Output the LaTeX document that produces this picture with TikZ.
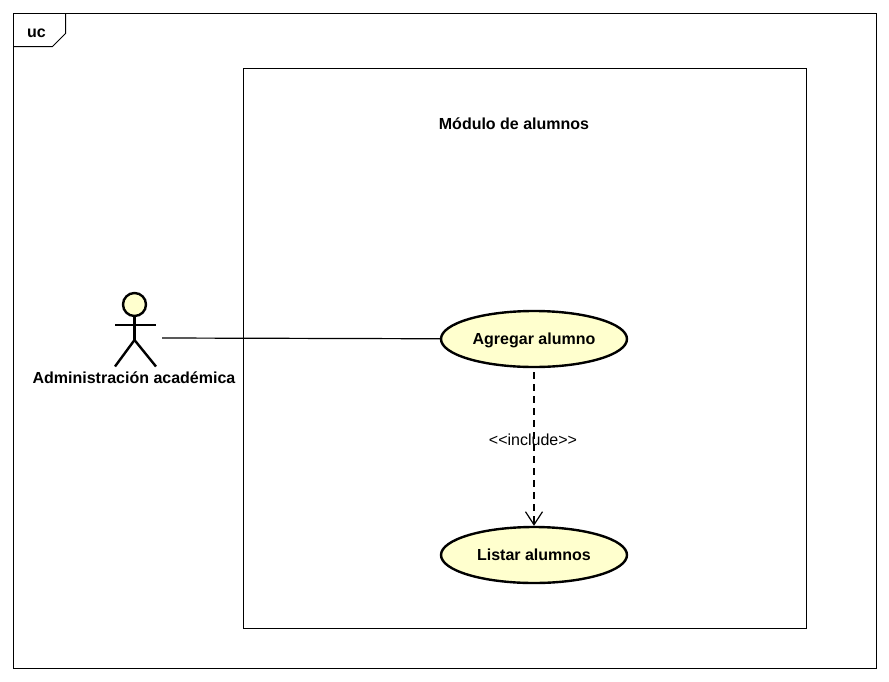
\documentclass[tikz,border=0pt]{standalone}
\usepackage{fontspec}
\setmainfont{Liberation Sans}
\usetikzlibrary{shapes.geometric,arrows.meta}
\definecolor{ucfill}{RGB}{255,255,206}

\begin{document}
\begin{tikzpicture}[x=1pt,y=-1pt,line cap=butt]
    \tikzstyle{usecase}=[ellipse,draw=black,line width=2.4pt,fill=ucfill,minimum width=186pt,minimum height=56pt,inner sep=0pt,text height=13pt,text depth=2.8pt,font=\fontsize{16}{18}\selectfont\bfseries]
    \tikzstyle{actorline}=[line width=2.4pt]
    \tikzstyle{frame}=[draw=black,line width=1pt]
    \tikzstyle{title}=[inner sep=0pt,font=\fontsize{16}{18}\selectfont\bfseries]
    \useasboundingbox (0,0) rectangle (889,681);

    % frames
    \draw[frame] (13.5,13.5) rectangle (876.5,668.5);
    \draw[frame] (13.5,46.5) -- (52.5,46.5) -- (65.5,33.5) -- (65.5,13.5);
    \node[title] (uc) at (36.5,33) {uc};
    \draw[frame] (243.5,68.5) rectangle (806.5,628.5);
    \node[title] (modulo) at (514,123.5) {Módulo de alumnos};

    % actor
    \node[circle,draw=black,line width=2.4pt,fill=ucfill,minimum size=23pt,inner sep=0pt] (head) at (134.5,304.5) {};
    \coordinate (hip) at (134.5,340);
    \draw[actorline] (head) -- (hip);
    \draw[actorline] (115,325) -- (156,325);
    \foreach \x in {115,156}
        \draw[actorline] (hip) -- (\x,366.5);
    \node[title] (admin) at (134,377.5) {Administración académica};

    % use cases
    \foreach \name/\y/\txt in {agregar/339/Agregar alumno,listar/555/Listar alumnos}
        \node[usecase] (\name) at (534,\y) {\txt};

    \coordinate (hand) at (162,338);
    \coordinate (dashstart) at (534,372);
    \draw[line width=1.2pt] (hand) -- (agregar);
    \draw[line width=1.1pt,dash pattern=on 7pt off 5pt,-{Straight Barb[length=13pt,width=17pt,line width=1.2pt]}] (dashstart) -- (listar);
    \node[inner sep=0pt,font=\fontsize{16}{18}\selectfont] (incl) at (533,439.5) {{<}{<}include{>}{>}};
\end{tikzpicture}
\end{document}
